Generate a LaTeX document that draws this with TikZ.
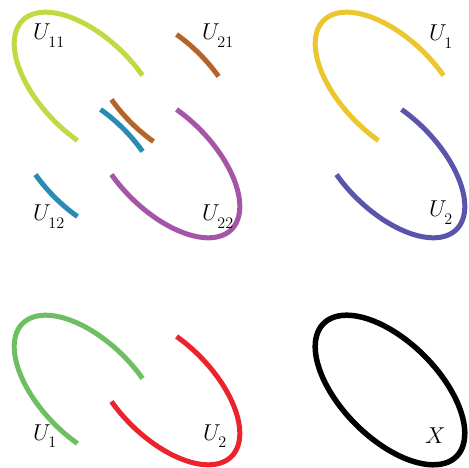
\RequirePackage{fix-cm}
\documentclass[tikz,border=0pt]{standalone}
\definecolor{clime}{RGB}{196,216,68}
\definecolor{cbrown}{RGB}{180,100,40}
\definecolor{cblue}{RGB}{38,140,180}
\definecolor{cpurple}{RGB}{165,85,165}
\definecolor{cyellow}{RGB}{236,198,45}
\definecolor{cindigo}{RGB}{90,85,170}
\definecolor{cgreen}{RGB}{110,190,100}
\definecolor{cred}{RGB}{235,35,45}
\newcommand\myarc[5]{%
  \begin{scope}[shift={(#2,#3)},x={(66.47pt,-66.47pt)},y={(34.29pt,34.29pt)}]
    \draw[arcline,#1] plot[domain=#4:#5,samples=90,smooth] ({cos(\x)},{sin(\x)});
  \end{scope}}
\newcommand\lowsub[1]{_{\lower4.5pt\hbox{$\scriptstyle #1$}}}
\begin{document}
\begin{tikzpicture}[x=1pt,y=-1pt,
  arcline/.style={line width=5pt},
  lab/.style={anchor=base west,inner sep=0pt,font=\fontsize{23}{28}\selectfont}]
\useasboundingbox (0,0) rectangle (469,468);
% top-left panel
\myarc{clime}{89}{87}{71.6}{288.4}
\myarc{cpurple}{165}{163}{251.6}{468.4}
\myarc{cbrown}{165}{88}{71.6}{108.4}
\myarc{cbrown}{165}{88}{251.6}{288.4}
\myarc{cblue}{89}{163}{71.6}{108.4}
\myarc{cblue}{89}{163}{251.6}{288.4}
\node[lab] (u11) at (33,40) {$U\lowsub{11}$};
\node[lab] (u21) at (202,40) {$U\lowsub{21}$};
\node[lab] (u12) at (33,221) {$U\lowsub{12}$};
\node[lab] (u22) at (202,221) {$U\lowsub{22}$};
% top-right panel
\myarc{cyellow}{390}{87}{71.6}{288.4}
\myarc{cindigo}{390}{163}{251.6}{468.4}
\node[lab] (tu1) at (429,41) {$U\lowsub{1}$};
\node[lab] (tu2) at (429,217) {$U\lowsub{2}$};
% bottom-left panel
\myarc{cgreen}{89}{390}{71.6}{288.4}
\myarc{cred}{165}{390}{251.6}{468.4}
\node[lab] (bu1) at (33,440) {$U\lowsub{1}$};
\node[lab] (bu2) at (203,440) {$U\lowsub{2}$};
% bottom-right panel
\myarc{black,line width=5.5pt}{390}{390}{0}{360}
\node[lab] (x) at (425,443) {$X$};
\end{tikzpicture}
\end{document}
